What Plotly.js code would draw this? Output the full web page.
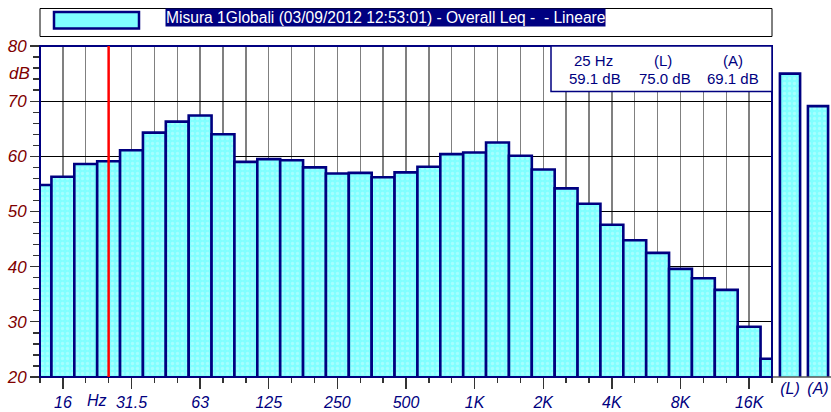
<!DOCTYPE html>
<html>
<head>
<meta charset="utf-8">
<script src="https://cdn.plot.ly/plotly-3.0.1.min.js"></script>
<style>html,body{margin:0;padding:0;background:#fff;}#chart{width:831px;height:412px;}</style>
</head>
<body>
<div id="chart"></div>
<script>
// ---- data ----
const bands = ['12.5','16','20','25','31.5','40','50','63','80','100','125','160','200','250','315','400','500','630','800','1K','1.25K','1.6K','2K','2.5K','3.15K','4K','5K','6.3K','8K','10K','12.5K','16K','20K'];
const levels = [54.8,56.3,58.6,59.1,61.1,64.3,66.3,67.4,64.0,59.0,59.5,59.3,58.0,56.9,57.0,56.2,57.1,58.1,60.4,60.7,62.5,60.1,57.6,54.2,51.4,47.6,44.8,42.5,39.6,37.9,35.8,29.1,23.3];
const tickLabels = ['16','31.5','63','125','250','500','1K','2K','4K','8K','16K'];
const globalLabels = ['(L)','(A)'];
const globalLevels = [75.0, 69.1];
const cursorBand = '25';
const legendText = 'Misura 1Globali (03/09/2012 12:53:01) - Overall Leq -\u00a0\u00a0- Lineare';

// ---- layout helpers (pixel -> paper) ----
const W = 831, H = 412, ML = 40, MR = 0, MT = 46, MB = 35;
const PW = W - ML - MR, PH = H - MT - MB;
const px = x => (x - ML) / PW;
const py = y => (H - MB - y) / PH;
const mainEnd = px(772);

const idx = bands.map((_, i) => i);
const cursorIdx = bands.indexOf(cursorBand);
const cursorVal = levels[cursorIdx];

const NAVY = '#000080';
const FONT = 'Liberation Sans, Arial, sans-serif';
const barMarker = {
  color: '#80ffff',
  line: {color: NAVY, width: 2.6},
  pattern: {shape: '.', fgcolor: '#c8ffff', bgcolor: '#80ffff', size: 5, solidity: 0.35, fillmode: 'overlay'}
};

const traces = [
  {type: 'bar', x: idx, y: levels, width: 1, marker: barMarker, xaxis: 'x', yaxis: 'y', hoverinfo: 'none'},
  {type: 'bar', x: globalLabels, y: globalLevels, width: 0.72, marker: barMarker, xaxis: 'x2', yaxis: 'y2', hoverinfo: 'none'}
];

const tickFontX = {family: FONT, size: 16, color: NAVY, style: 'italic'};
const tickFontY = {family: FONT, size: 17, color: '#800000', style: 'italic'};
const infoFont = {family: FONT, size: 15, color: NAVY};

const layout = {
  width: W, height: H,
  margin: {l: ML, r: MR, t: MT, b: MB, pad: 0},
  paper_bgcolor: '#fff', plot_bgcolor: '#fff',
  showlegend: false,
  bargap: 0,
  xaxis: {
    domain: [0, mainEnd], range: [0, bands.length - 1],
    tickmode: 'array', tickvals: tickLabels.map(l => bands.indexOf(l)), ticktext: tickLabels,
    ticks: 'outside', ticklen: 11, tickcolor: '#333', tickwidth: 1.3,
    tickfont: tickFontX,
    showgrid: true, gridcolor: '#808080', gridwidth: 1.3,
    minor: {tickmode: 'linear', tick0: 0, dtick: 1, ticks: 'outside', ticklen: 5, tickcolor: '#333', tickwidth: 1.3, showgrid: true, gridcolor: '#808080', gridwidth: 1.3},
    showline: false, zeroline: false, fixedrange: true
  },
  xaxis2: {
    domain: [mainEnd, 1], anchor: 'y2', type: 'category', range: [-0.643, 1.464],
    ticks: '', showgrid: false, tickfont: tickFontX, showline: false, zeroline: false
  },
  yaxis: {
    range: [20, 80], dtick: 10, tick0: 0,
    ticks: 'outside', ticklen: 9, tickcolor: '#333', tickwidth: 1.3,
    tickfont: tickFontY,
    showgrid: true, gridcolor: '#000', gridwidth: 1.2,
    minor: {dtick: 2, ticks: 'outside', ticklen: 6, tickcolor: '#333', tickwidth: 1.3, showgrid: false},
    showline: false, zeroline: false
  },
  yaxis2: {
    matches: 'y', anchor: 'x2', showgrid: false, showticklabels: false, ticks: '', zeroline: false, showline: false
  },
  shapes: [
    {type: 'line', xref: 'paper', yref: 'paper', x0: 0, x1: 1, y0: 0, y1: 0, line: {color: '#555', width: 1.5}, layer: 'above'},
    {type: 'rect', xref: 'x domain', yref: 'y domain', x0: 0, x1: 1, y0: 0, y1: 1, line: {color: NAVY, width: 2}, layer: 'above'},
    {type: 'line', xref: 'x', yref: 'y domain', x0: cursorIdx, x1: cursorIdx, y0: 0, y1: 1, line: {color: '#ff0000', width: 2.5}, layer: 'above'},
    {type: 'rect', xref: 'paper', yref: 'paper', x0: px(551), x1: mainEnd, y0: py(91.5), y1: 1, fillcolor: '#fff', line: {color: NAVY, width: 1.5}, layer: 'above'},
    {type: 'rect', xref: 'paper', yref: 'paper', x0: 0, x1: mainEnd, y0: py(36.5), y1: py(8.5), fillcolor: 'rgba(0,0,0,0)', line: {color: '#000', width: 1}, layer: 'above'},
    {type: 'rect', xref: 'paper', yref: 'paper', x0: px(54), x1: px(139), y0: py(28.5), y1: py(12), fillcolor: '#80ffff', line: {color: NAVY, width: 2.5}, layer: 'above'}
  ],
  annotations: [
    {xref: 'paper', yref: 'paper', x: px(165), y: py(17.5), xanchor: 'left', yanchor: 'middle', text: legendText, showarrow: false,
     font: {family: FONT, size: 15.6, color: '#fff'}, bgcolor: NAVY, borderpad: 0},
    {xref: 'paper', yref: 'paper', x: px(19), y: py(73), xanchor: 'center', yanchor: 'middle', text: 'dB', showarrow: false, font: tickFontY},
    {xref: 'x', yref: 'paper', x: 2.5, y: py(400), xanchor: 'center', yanchor: 'middle', text: 'Hz', showarrow: false, font: tickFontX},
    {xref: 'paper', yref: 'paper', x: px(593), y: py(61), xanchor: 'center', yanchor: 'middle', showarrow: false, text: cursorBand + ' Hz', font: infoFont},
    {xref: 'paper', yref: 'paper', x: px(663), y: py(61), xanchor: 'center', yanchor: 'middle', showarrow: false, text: globalLabels[0], font: infoFont},
    {xref: 'paper', yref: 'paper', x: px(733), y: py(61), xanchor: 'center', yanchor: 'middle', showarrow: false, text: globalLabels[1], font: infoFont},
    {xref: 'paper', yref: 'paper', x: px(595), y: py(79), xanchor: 'center', yanchor: 'middle', showarrow: false, text: cursorVal.toFixed(1) + ' dB', font: infoFont},
    {xref: 'paper', yref: 'paper', x: px(665), y: py(79), xanchor: 'center', yanchor: 'middle', showarrow: false, text: globalLevels[0].toFixed(1) + ' dB', font: infoFont},
    {xref: 'paper', yref: 'paper', x: px(733), y: py(79), xanchor: 'center', yanchor: 'middle', showarrow: false, text: globalLevels[1].toFixed(1) + ' dB', font: infoFont}
  ]
};

Plotly.newPlot('chart', traces, layout, {displayModeBar: false, staticPlot: true});
</script>
</body>
</html>
